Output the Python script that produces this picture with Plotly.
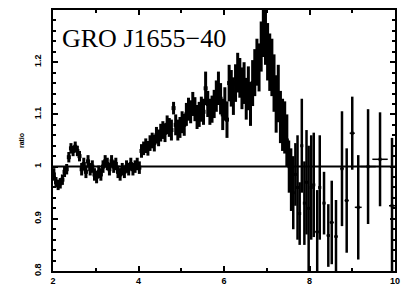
import plotly.graph_objects as go

# Dense part of the ratio spectrum (energy keV, ratio, 1-sigma error)
energy_dense = [2.02, 2.07, 2.12, 2.17, 2.22, 2.27, 2.32, 2.37, 2.42, 2.47,
                2.52, 2.57, 2.62, 2.67, 2.72, 2.77, 2.82, 2.87, 2.92, 2.97,
                3.02, 3.07, 3.12, 3.17, 3.22, 3.27, 3.32, 3.37, 3.42, 3.47,
                3.52, 3.57, 3.62, 3.67, 3.72, 3.77, 3.82, 3.87, 3.92, 3.97,
                4.02, 4.07, 4.12, 4.17, 4.22, 4.27, 4.32, 4.37, 4.42, 4.47,
                4.52, 4.57, 4.62, 4.67, 4.72, 4.77, 4.82, 4.87, 4.92, 4.97,
                5.02, 5.07, 5.12, 5.17, 5.22, 5.27, 5.32, 5.37, 5.42, 5.47,
                5.52, 5.57, 5.62, 5.67, 5.72, 5.77, 5.82, 5.87, 5.92, 5.97,
                6.02, 6.07, 6.12, 6.17, 6.22, 6.27, 6.32, 6.37, 6.42, 6.47,
                6.52, 6.57, 6.62, 6.67, 6.72, 6.77, 6.82, 6.87, 6.92, 6.97,
                7.02, 7.07, 7.12, 7.17, 7.22, 7.27, 7.32, 7.37, 7.42, 7.47]
ratio_dense = [0.985, 0.970, 0.965, 0.968, 0.975, 0.990, 0.995, 1.018, 1.035, 1.030,
               1.038, 1.030, 1.020, 0.995, 1.005, 0.990, 1.010, 0.995, 1.000, 0.985,
               0.980, 0.990, 0.985, 1.000, 1.010, 1.005, 0.995, 1.010, 1.000, 1.005,
               0.990, 0.985, 0.995, 0.990, 1.000, 0.995, 1.005, 0.995, 1.000, 1.005,
               0.998, 1.030, 1.035, 1.040, 1.035, 1.045, 1.050, 1.045, 1.060, 1.055,
               1.065, 1.070, 1.065, 1.080, 1.075, 1.070, 1.112, 1.080, 1.070, 1.075,
               1.085, 1.080, 1.100, 1.110, 1.105, 1.120, 1.110, 1.095, 1.100, 1.110,
               1.105, 1.150, 1.120, 1.105, 1.110, 1.120, 1.135, 1.150, 1.130, 1.100,
               1.120, 1.090, 1.160, 1.150, 1.135, 1.160, 1.180, 1.170, 1.150, 1.160,
               1.130, 1.150, 1.120, 1.160, 1.180, 1.200, 1.190, 1.230, 1.265, 1.250,
               1.220, 1.200, 1.190, 1.160, 1.120, 1.140, 1.095, 1.080, 1.075, 1.050]
err_dense = [0.012, 0.010, 0.010, 0.010, 0.010, 0.010, 0.010, 0.010, 0.010, 0.010,
             0.010, 0.010, 0.010, 0.012, 0.012, 0.012, 0.012, 0.012, 0.012, 0.012,
             0.012, 0.012, 0.012, 0.012, 0.012, 0.012, 0.012, 0.012, 0.012, 0.012,
             0.012, 0.012, 0.012, 0.012, 0.012, 0.012, 0.012, 0.012, 0.012, 0.012,
             0.012, 0.013, 0.013, 0.014, 0.014, 0.015, 0.015, 0.016, 0.016, 0.016,
             0.017, 0.017, 0.018, 0.018, 0.018, 0.020, 0.012, 0.020, 0.020, 0.020,
             0.021, 0.021, 0.022, 0.022, 0.022, 0.023, 0.023, 0.023, 0.024, 0.024,
             0.025, 0.032, 0.025, 0.025, 0.026, 0.027, 0.030, 0.032, 0.030, 0.030,
             0.032, 0.035, 0.035, 0.035, 0.036, 0.036, 0.038, 0.038, 0.040, 0.040,
             0.040, 0.042, 0.042, 0.044, 0.045, 0.045, 0.046, 0.048, 0.055, 0.055,
             0.055, 0.055, 0.055, 0.055, 0.055, 0.055, 0.050, 0.050, 0.050, 0.050]

# Sparse high-energy part (with horizontal bin half-widths)
energy_sparse = [7.52, 7.57, 7.62, 7.67, 7.72, 7.77, 7.82, 7.88, 7.93, 7.98,
                 8.04, 8.10, 8.18, 8.24, 8.34, 8.44, 8.52, 8.62, 8.76, 8.87,
                 9.00, 9.14, 9.37, 9.65, 9.93]
ratio_sparse = [1.000, 0.975, 0.950, 0.985, 0.960, 0.910, 1.040, 0.930, 0.970, 0.920,
                0.960, 0.965, 0.875, 0.960, 0.930, 0.868, 0.893, 0.866, 0.996, 0.935,
                1.064, 0.922, 1.000, 1.014, 0.925]
err_sparse = [0.050, 0.060, 0.070, 0.060, 0.100, 0.060, 0.090, 0.080, 0.100, 0.120,
              0.100, 0.100, 0.080, 0.100, 0.060, 0.060, 0.080, 0.070, 0.110, 0.100,
              0.070, 0.100, 0.110, 0.090, 0.130]
xerr_sparse = [0.020, 0.020, 0.020, 0.020, 0.020, 0.020, 0.025, 0.025, 0.025, 0.025,
               0.025, 0.030, 0.050, 0.030, 0.030, 0.040, 0.050, 0.040, 0.040, 0.050,
               0.060, 0.080, 0.180, 0.180, 0.070]

x_ticks = [2, 4, 6, 8, 10]
x_tick_text = ["2", "4", "6", "8", "10"]
y_ticks = [0.8, 0.9, 1.0, 1.1, 1.2]
y_tick_text = ["0.8", "0.9", "1", "1.1", "1.2"]

fig = go.Figure()
fig.add_trace(go.Scatter(
    x=energy_dense, y=ratio_dense, mode="markers",
    marker=dict(color="black", size=4, symbol="square"),
    error_y=dict(type="data", array=err_dense, color="black", thickness=3, width=0),
    showlegend=False))
fig.add_trace(go.Scatter(
    x=energy_sparse, y=ratio_sparse, mode="markers",
    marker=dict(color="black", size=3, symbol="square"),
    error_y=dict(type="data", array=err_sparse, color="black", thickness=2.5, width=0),
    error_x=dict(type="data", array=xerr_sparse, color="black", thickness=1.5, width=0),
    showlegend=False))

fig.add_shape(type="line", xref="paper", x0=0, x1=1, yref="y", y0=1, y1=1,
              line=dict(color="black", width=2))

fig.add_annotation(text="GRO J1655\u221240", xref="paper", yref="paper",
                   x=0.02, y=0.955, xanchor="left", yanchor="top", showarrow=False,
                   font=dict(family="Liberation Serif", size=26, color="black"))

axis_common = dict(showline=True, linecolor="black", linewidth=2, mirror="allticks",
                   ticks="inside", tickcolor="black", tickwidth=1.5, ticklen=5,
                   showgrid=False, zeroline=False,
                   tickfont=dict(family="Liberation Sans", size=9, color="black",
                                 weight="bold"))

fig.update_xaxes(range=[2, 10], tickvals=x_ticks, ticktext=x_tick_text,
                 minor=dict(dtick=1, tick0=2, ticks="inside", ticklen=3, tickcolor="black",
                            tickwidth=1.5),
                 **axis_common)
fig.update_yaxes(range=[0.8, 1.3], tickvals=y_ticks, ticktext=y_tick_text, tickangle=-90,
                 minor=dict(dtick=0.02, tick0=0.8, ticks="inside", ticklen=3, tickcolor="black",
                            tickwidth=1.5),
                 title=dict(text="ratio", font=dict(family="Liberation Sans", size=7,
                                                    color="black", weight="bold"),
                            standoff=8),
                 ticklabelstandoff=6,
                 **axis_common)

# page body has an 8px default margin, so the figure is offset by 8px
fig.update_layout(width=401, height=282, margin=dict(l=45, r=14, t=0, b=19),
                  plot_bgcolor="white", paper_bgcolor="white")

fig.write_html("out.html")
